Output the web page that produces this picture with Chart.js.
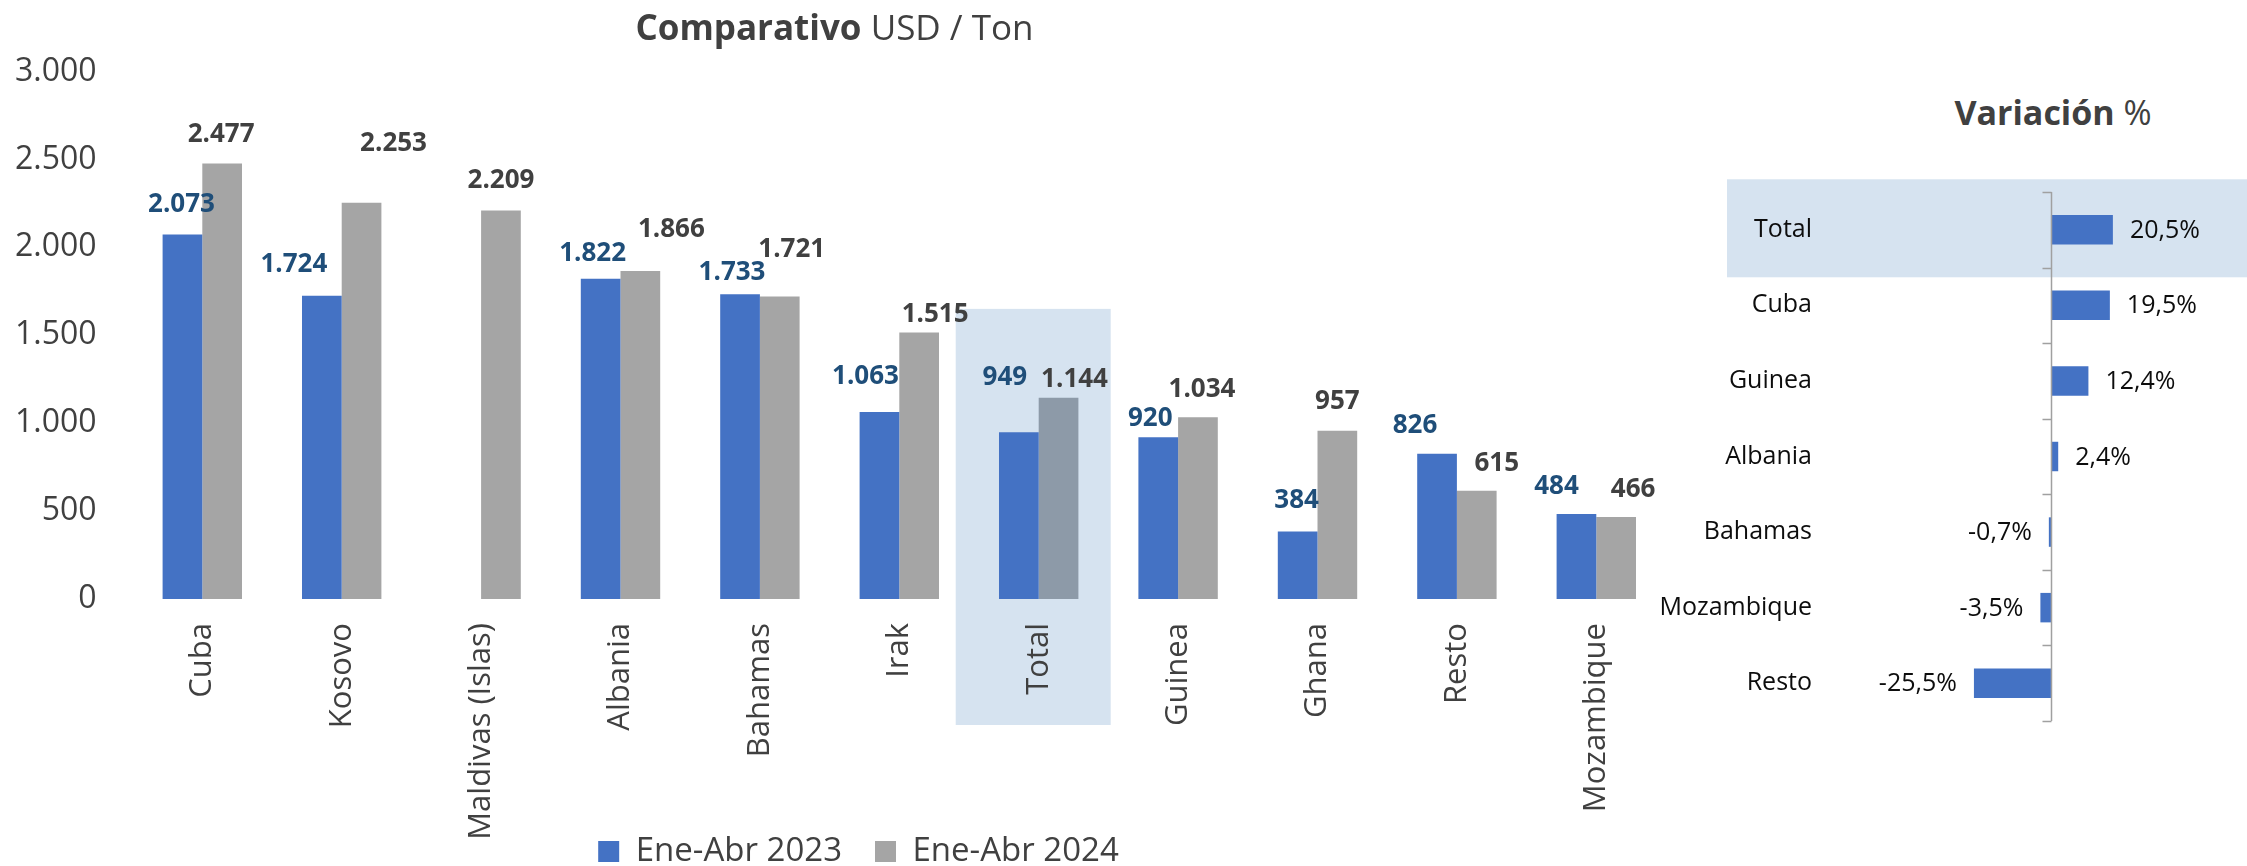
<!DOCTYPE html>
<html>
<head>
<meta charset="utf-8">
<script src="https://cdn.jsdelivr.net/npm/chart.js@4.4.1/dist/chart.umd.min.js"></script>
<style>
  html, body { margin:0; padding:0; background:#fff; }
  body { width:2247px; height:866px; overflow:hidden; position:relative; font-family:"Open Sans", sans-serif; }
  .title { position:absolute; color:#404040; font-family:"Open Sans", sans-serif; text-align:center; white-space:nowrap; }
  .title b { font-weight:700; }
  .title span { font-weight:400; }
  #wrap1 { position:absolute; left:0; top:0; width:1704px; height:878px; }
  #wrap2 { position:absolute; left:1600px; top:150px; width:647px; height:596px; }
</style>
</head>
<body>
<div id="wrap1"><canvas id="c1" width="1704" height="878" style="width:1704px;height:878px"></canvas></div>
<div id="wrap2"><canvas id="c2" width="647" height="596" style="width:647px;height:596px"></canvas></div>
<div class="title" style="left:0;width:1669px;top:6px;font-size:35px;line-height:42px;"><b>Comparativo</b><span> USD / Ton</span></div>
<div class="title" style="left:1853px;width:400px;top:91px;font-size:34px;line-height:42px;"><b>Variación</b><span> %</span></div>
<script>
// ---------- data ----------
const categories = ['Cuba','Kosovo','Maldivas (Islas)','Albania','Bahamas','Irak','Total','Guinea','Ghana','Resto','Mozambique'];
const seriesNames = ['Ene-Abr 2023','Ene-Abr 2024'];
const values2023 = [2073,1724,null,1822,1733,1063,949,920,384,826,484];
const values2024 = [2477,2253,2209,1866,1721,1515,1144,1034,957,615,466];
const yTickLabels = ['0','500','1.000','1.500','2.000','2.500','3.000'];

const varCategories = ['Total','Cuba','Guinea','Albania','Bahamas','Mozambique','Resto'];
const varValues = [20.5,19.5,12.4,2.4,-0.7,-3.5,-25.5];

// ---------- label placement (styles, not data) ----------
const labelOffset2023 = [[-1,-30],[-28,-31],[0,0],[-8,-25],[-8,-22],[-14,-35],[-14,-55],[-8,-19],[-1,-31],[-22,-28],[-20,-27]];
const labelOffset2024 = [[-1,-29],[32,-59],[0,-30],[31,-41],[12,-47],[16,-18],[16,-18],[4,-28],[0,-29],[20,-27],[17,-27]];

const BLUE = '#4472C4', GRAY = '#A5A5A5', GRAY_TOTAL = '#8D9AA8', HILITE = '#D6E3F0';

function fmtThousands(v) {
  const s = String(Math.round(v));
  return s.replace(/\B(?=(\d{3})+(?!\d))/g, '.');
}
function fmtPct(v) {
  return v.toFixed(1).replace('.', ',') + '%';
}
// let tick labels overflow the scale box (no clipping)
function noLabelClip(scale) { scale._computeLabelArea = () => undefined; }

// ---------- plugins ----------
const highlightLeft = {
  id: 'highlightLeft',
  beforeDraw(chart, args, opts) {
    const {ctx, scales: {x, y}, chartArea} = chart;
    const idx = categories.indexOf('Total');
    const cx = x.getPixelForValue(idx);
    const top = y.getPixelForValue(opts.topValue);
    const bottom = chartArea.bottom + opts.below;
    ctx.save();
    ctx.fillStyle = HILITE;
    ctx.fillRect(cx - opts.left, top, opts.left + opts.right, bottom - top);
    ctx.restore();
  }
};

const barLabels = {
  id: 'barLabels',
  afterDatasetsDraw(chart, args, opts) {
    const ctx = chart.ctx;
    chart.data.datasets.forEach((ds, di) => {
      const meta = chart.getDatasetMeta(di);
      const offs = opts.offsets[di];
      ctx.save();
      ctx.font = opts.font;
      ctx.fillStyle = opts.colors[di];
      ctx.textAlign = 'center';
      ctx.textBaseline = 'middle';
      meta.data.forEach((el, i) => {
        const v = ds.data[i];
        if (v == null) return;
        ctx.fillText(fmtThousands(v), el.x + offs[i][0], el.y + offs[i][1]);
      });
      ctx.restore();
    });
  }
};

const highlightRight = {
  id: 'highlightRight',
  beforeDraw(chart, args, opts) {
    const {ctx, scales: {y}, chartArea} = chart;
    const cy = y.getPixelForValue(varCategories.indexOf('Total'));
    ctx.save();
    ctx.fillStyle = HILITE;
    ctx.fillRect(chartArea.left - opts.leftExtra, cy - opts.up, chart.width - (chartArea.left - opts.leftExtra), opts.up + opts.down);
    ctx.restore();
  }
};

const zeroAxis = {
  id: 'zeroAxis',
  afterDatasetsDraw(chart, args, opts) {
    const {ctx, scales: {x, y}, chartArea} = chart;
    const x0 = Math.round(x.getPixelForValue(0)) + 0.5;
    ctx.save();
    ctx.strokeStyle = opts.color;
    ctx.lineWidth = opts.width;
    ctx.beginPath();
    ctx.moveTo(x0, chartArea.top);
    ctx.lineTo(x0, chartArea.bottom);
    const n = varCategories.length;
    const step = (chartArea.bottom - chartArea.top) / n;
    for (let i = 0; i <= n; i++) {
      const yy = Math.round(chartArea.top + i * step) + 0.5;
      ctx.moveTo(x0 - opts.tick, yy);
      ctx.lineTo(x0, yy);
    }
    ctx.stroke();
    ctx.restore();
  }
};

const valueLabels = {
  id: 'valueLabels',
  afterDatasetsDraw(chart, args, opts) {
    const ctx = chart.ctx;
    const meta = chart.getDatasetMeta(0);
    const ds = chart.data.datasets[0];
    ctx.save();
    ctx.font = opts.font;
    ctx.fillStyle = opts.color;
    ctx.textBaseline = 'middle';
    meta.data.forEach((el, i) => {
      const v = ds.data[i];
      if (v >= 0) { ctx.textAlign = 'left'; ctx.fillText(fmtPct(v), el.x + opts.gap, el.y + 1); }
      else { ctx.textAlign = 'right'; ctx.fillText(fmtPct(v), el.x - opts.gap, el.y + 1); }
    });
    ctx.restore();
  }
};

// ---------- left chart ----------
new Chart(document.getElementById('c1'), {
  type: 'bar',
  data: {
    labels: categories,
    datasets: [
      { label: seriesNames[0], data: values2023, backgroundColor: BLUE, borderWidth: 0 },
      { label: seriesNames[1], data: values2024,
        backgroundColor: categories.map(c => c === 'Total' ? GRAY_TOTAL : GRAY), borderWidth: 0 }
    ]
  },
  options: {
    responsive: false,
    animation: false,
    devicePixelRatio: 1,
    categoryPercentage: 0.5696,
    barPercentage: 1,
    layout: { padding: { top: 71.5, left: 51, right: 38, bottom: 0 } },
    scales: {
      x: {
        grid: { display: false, drawTicks: false },
        border: { display: false },
        ticks: {
          autoSkip: false, minRotation: 90, maxRotation: 90, padding: 24,
          color: '#404040', font: { family: 'Open Sans', size: 31 }
        },
        afterFit(scale) { scale.height = 203; noLabelClip(scale); }
      },
      y: {
        min: 0, max: 3000,
        grid: { display: false, drawTicks: false },
        border: { display: false },
        ticks: {
          stepSize: 500, padding: 36, color: '#404040',
          font: { family: 'Open Sans', size: 32 },
          callback: (v, i) => yTickLabels[i]
        },
        afterFit(scale) { scale.width = 81.6; noLabelClip(scale); }
      }
    },
    plugins: {
      legend: {
        position: 'bottom',
        labels: {
          boxWidth: 21, boxHeight: 21, padding: 33, color: '#404040',
          font: { family: 'Open Sans', size: 33 },
          generateLabels(chart) {
            return chart.data.datasets.map((d, i) => ({
              text: d.label, fillStyle: i === 0 ? BLUE : GRAY, strokeStyle: 'rgba(0,0,0,0)',
              lineWidth: 0, hidden: false, datasetIndex: i, fontColor: '#404040'
            }));
          }
        }
      },
      tooltip: { enabled: false },
      highlightLeft: { topValue: 1650, below: 126, left: 83, right: 72 },
      barLabels: {
        offsets: [labelOffset2023, labelOffset2024],
        colors: ['#1F4E79', '#404040'],
        font: '700 26px "Open Sans"'
      }
    }
  },
  plugins: [highlightLeft, barLabels]
});

// ---------- right chart ----------
new Chart(document.getElementById('c2'), {
  type: 'bar',
  data: {
    labels: varCategories,
    datasets: [{ label: 'Variación %', data: varValues, backgroundColor: BLUE, borderWidth: 0 }]
  },
  options: {
    indexAxis: 'y',
    responsive: false,
    animation: false,
    devicePixelRatio: 1,
    categoryPercentage: 1,
    barPercentage: 0.39,
    layout: { padding: { top: 42, left: 0, right: 0, bottom: 0 } },
    scales: {
      x: { display: false, min: -75.8, max: 64.9 },
      y: {
        grid: { display: false, drawTicks: false },
        border: { display: false },
        ticks: { padding: 10, color: '#0D0D0D', font: { family: 'Open Sans', size: 25 } },
        afterFit(scale) { scale.width = 222; noLabelClip(scale); }
      }
    },
    plugins: {
      legend: { display: false },
      tooltip: { enabled: false },
      highlightRight: { leftExtra: 95, up: 50.5, down: 47.5 },
      zeroAxis: { color: '#A0A0A0', width: 1.5, tick: 9 },
      valueLabels: { font: '400 25px "Open Sans"', color: '#0D0D0D', gap: 17 }
    }
  },
  plugins: [highlightRight, zeroAxis, valueLabels]
});
</script>
</body>
</html>
